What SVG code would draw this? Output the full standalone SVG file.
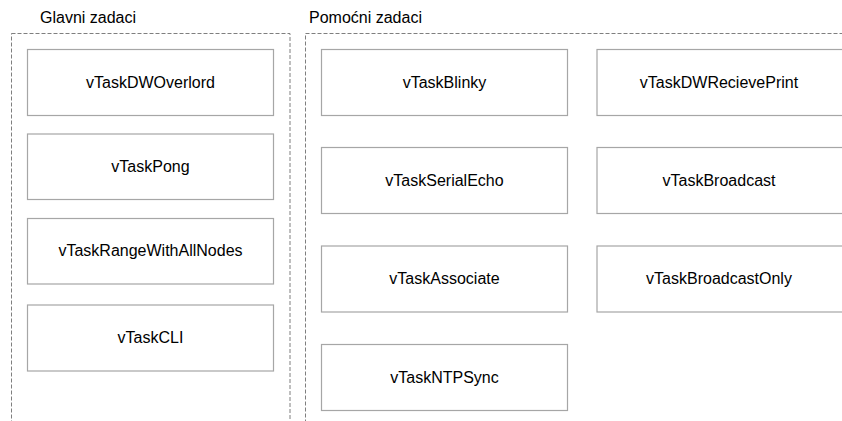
<svg xmlns="http://www.w3.org/2000/svg" width="842" height="421" viewBox="0 0 842 421">
<style>
.bg{fill:#ffffff}
.grp{fill:none;stroke:#7f7f7f;stroke-width:1;stroke-dasharray:4 2}
.box{fill:#ffffff;stroke:#a6a6a6;stroke-width:1.2}
.lbl{font-family:"Liberation Sans",Arial,sans-serif;font-size:16px;fill:#000000;text-anchor:middle;dominant-baseline:central}
.ttl{font-family:"Liberation Sans",Arial,sans-serif;font-size:16px;fill:#000000}
</style>
<rect class="bg" x="0" y="0" width="842" height="421"/>
<g id="group-glavni">
<rect class="grp" x="11.5" y="33.5" width="278.5" height="400"/>
<text class="ttl" x="40" y="23">Glavni zadaci</text>
</g>
<g id="group-pomocni">
<rect class="grp" x="305.5" y="33.5" width="560" height="400"/>
<text class="ttl" x="309" y="23">Pomoćni zadaci</text>
</g>
<g id="vTaskDWOverlord"><rect class="box" x="27.5" y="49.5" width="246" height="66"/><text class="lbl" x="150.5" y="82">vTaskDWOverlord</text></g>
<g id="vTaskPong"><rect class="box" x="27.5" y="134" width="246" height="65.5"/><text class="lbl" x="150.5" y="166">vTaskPong</text></g>
<g id="vTaskRangeWithAllNodes"><rect class="box" x="27.5" y="218.5" width="246" height="65.5"/><text class="lbl" x="150.5" y="250.5">vTaskRangeWithAllNodes</text></g>
<g id="vTaskCLI"><rect class="box" x="27.5" y="305" width="246" height="66"/><text class="lbl" x="150.5" y="337.5">vTaskCLI</text></g>
<g id="vTaskBlinky"><rect class="box" x="321.5" y="49.5" width="246" height="66"/><text class="lbl" x="444.5" y="82">vTaskBlinky</text></g>
<g id="vTaskSerialEcho"><rect class="box" x="321.5" y="147.5" width="246" height="66"/><text class="lbl" x="444.5" y="180">vTaskSerialEcho</text></g>
<g id="vTaskAssociate"><rect class="box" x="321.5" y="246" width="246" height="66"/><text class="lbl" x="444.5" y="278.5">vTaskAssociate</text></g>
<g id="vTaskNTPSync"><rect class="box" x="321.5" y="344.5" width="246" height="66"/><text class="lbl" x="444.5" y="377">vTaskNTPSync</text></g>
<g id="vTaskDWRecievePrint"><rect class="box" x="597" y="49.5" width="246" height="66"/><text class="lbl" x="719" y="82">vTaskDWRecievePrint</text></g>
<g id="vTaskBroadcast"><rect class="box" x="597" y="147.5" width="246" height="66"/><text class="lbl" x="719" y="180">vTaskBroadcast</text></g>
<g id="vTaskBroadcastOnly"><rect class="box" x="597" y="246" width="246" height="66"/><text class="lbl" x="719" y="278.5">vTaskBroadcastOnly</text></g>
<g id="connectors"></g>
</svg>
